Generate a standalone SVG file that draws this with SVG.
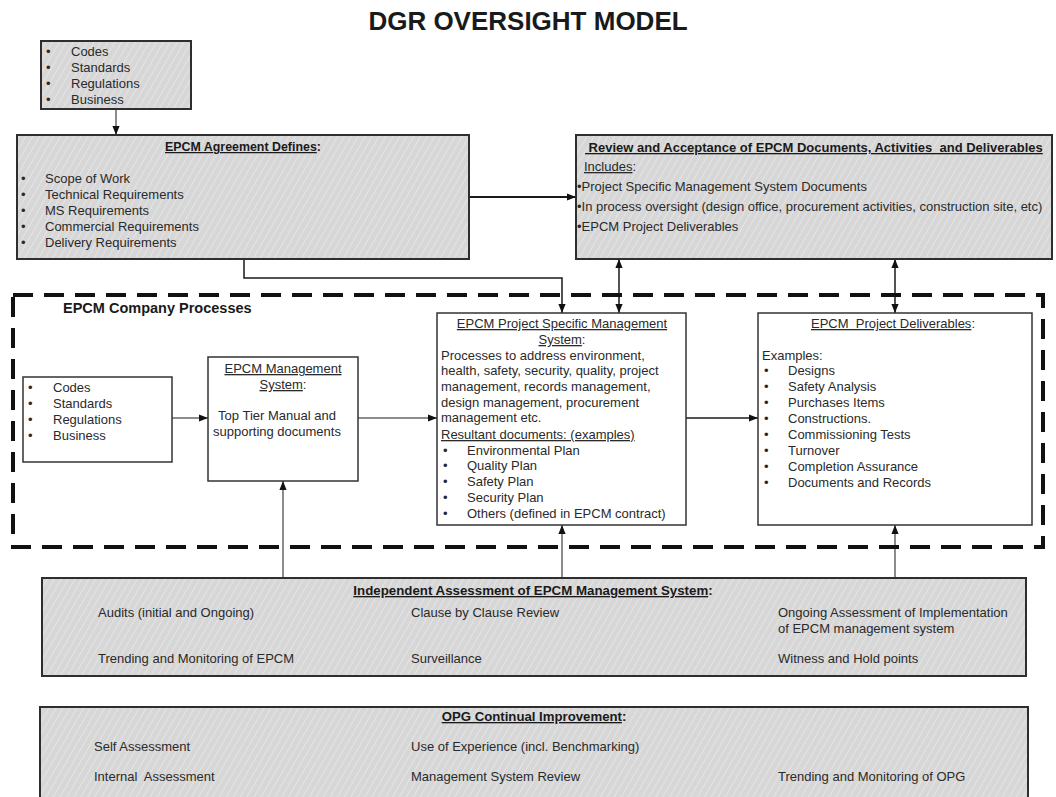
<svg xmlns="http://www.w3.org/2000/svg" width="1056" height="797" viewBox="0 0 1056 797">
<defs>
<pattern id="hatch" patternUnits="userSpaceOnUse" width="6" height="6" patternTransform="rotate(30)">
<rect width="6" height="6" fill="#d7d7d7"/>
<line x1="0" y1="0" x2="0" y2="6" stroke="#e8e8e8" stroke-width="1.6"/>
</pattern>
<marker id="ah" viewBox="0 0 10 8" refX="10" refY="4" markerWidth="9" markerHeight="7.5" markerUnits="userSpaceOnUse" orient="auto-start-reverse">
<path d="M0,0 L10,4 L0,8 z" fill="#111"/>
</marker>
</defs>
<style>
text{font-family:"Liberation Sans",Arial,sans-serif;font-size:13px;fill:#2a2a2a}
.t{font-weight:bold;fill:#1a1a1a}
.u{text-decoration:underline}
.pre{white-space:pre}
.gray{fill:url(#hatch);stroke:#2e2e2e;stroke-width:2}
.white{fill:#fff;stroke:#333;stroke-width:1.5}
.c{fill:none;stroke:#1a1a1a}
</style>
<rect width="1056" height="797" fill="#fff"/>
<text x="528" y="30" text-anchor="middle" class="t" style="font-size:26px">DGR OVERSIGHT MODEL</text>

<g id="connectors">
<line class="c" x1="116" y1="109" x2="116" y2="135" stroke-width="1" marker-end="url(#ah)"/>
<line class="c" x1="469" y1="197" x2="576" y2="197" stroke-width="2" marker-end="url(#ah)"/>
<polyline class="c" points="244,259 244,278 562,278 562,313" stroke-width="1.5" marker-end="url(#ah)"/>
<line class="c" x1="619" y1="259" x2="619" y2="313" stroke-width="1.5" marker-start="url(#ah)" marker-end="url(#ah)"/>
<line class="c" x1="895" y1="259" x2="895" y2="313" stroke-width="1.5" marker-start="url(#ah)" marker-end="url(#ah)"/>
<line class="c" x1="172" y1="418" x2="208" y2="418" stroke-width="1" marker-end="url(#ah)"/>
<line class="c" x1="358" y1="418" x2="437" y2="418" stroke-width="1" marker-end="url(#ah)"/>
<line class="c" x1="686" y1="418" x2="758" y2="418" stroke-width="1.5" marker-end="url(#ah)"/>
<line class="c" x1="283" y1="578" x2="283" y2="481" stroke-width="1" marker-end="url(#ah)"/>
<line class="c" x1="562" y1="578" x2="562" y2="525" stroke-width="1" marker-end="url(#ah)"/>
<line class="c" x1="895" y1="578" x2="895" y2="525" stroke-width="1" marker-end="url(#ah)"/>
</g>

<g id="company-processes">
<rect x="13" y="295" width="1030" height="252" fill="none" stroke="#111" stroke-width="4" stroke-dasharray="20 11"/>
<text x="63" y="313" class="t" style="font-size:14.5px">EPCM Company Processes</text>
</g>

<g id="inputs-top">
<rect class="gray" x="41" y="41" width="150" height="68"/>
<text x="46" y="56">•</text><text x="71" y="56">Codes</text>
<text x="46" y="72">•</text><text x="71" y="72">Standards</text>
<text x="46" y="88">•</text><text x="71" y="88">Regulations</text>
<text x="46" y="104">•</text><text x="71" y="104">Business</text>
</g>

<g id="agreement">
<rect class="gray" x="17" y="135" width="452" height="124"/>
<text x="243" y="151" text-anchor="middle" class="t" style="font-size:12.4px"><tspan class="u">EPCM Agreement Defines</tspan>:</text>
<text x="21" y="183">•</text><text x="45" y="183">Scope of Work</text>
<text x="21" y="199">•</text><text x="45" y="199">Technical Requirements</text>
<text x="21" y="215">•</text><text x="45" y="215">MS Requirements</text>
<text x="21" y="231">•</text><text x="45" y="231">Commercial Requirements</text>
<text x="21" y="247">•</text><text x="45" y="247">Delivery Requirements</text>
</g>

<g id="review">
<rect class="gray" x="576" y="135" width="476" height="124"/>
<text x="585" y="152" class="t u pre" style="font-size:13px"> Review and Acceptance of EPCM Documents, Activities  and Deliverables</text>
<text x="584" y="171"><tspan class="u">Includes</tspan>:</text>
<text x="577" y="191">•Project Specific Management System Documents</text>
<text x="577" y="211">•In process oversight (design office, procurement activities, construction site, etc)</text>
<text x="577" y="231">•EPCM Project Deliverables</text>
</g>

<g id="inputs-inner">
<rect class="white" x="23" y="377" width="149" height="85"/>
<text x="28" y="392">•</text><text x="53" y="392">Codes</text>
<text x="28" y="408">•</text><text x="53" y="408">Standards</text>
<text x="28" y="424">•</text><text x="53" y="424">Regulations</text>
<text x="28" y="440">•</text><text x="53" y="440">Business</text>
</g>

<g id="management-system">
<rect class="white" x="208" y="357" width="150" height="124"/>
<text x="283" y="373" text-anchor="middle" class="u">EPCM Management</text>
<text x="283" y="389" text-anchor="middle"><tspan class="u">System</tspan>:</text>
<text x="277" y="420" text-anchor="middle">Top Tier Manual and</text>
<text x="277" y="436" text-anchor="middle">supporting documents</text>
</g>

<g id="project-ms">
<rect class="white" x="437" y="313" width="249" height="212"/>
<text x="562" y="328" text-anchor="middle" class="u">EPCM Project Specific Management</text>
<text x="562" y="344" text-anchor="middle"><tspan class="u">System</tspan>:</text>
<text x="441" y="360">Processes to address environment,</text>
<text x="441" y="375">health, safety, security, quality, project</text>
<text x="441" y="391">management, records management,</text>
<text x="441" y="407">design management, procurement</text>
<text x="441" y="422">management etc.</text>
<text x="441" y="439" class="u">Resultant documents: (examples)</text>
<text x="443" y="455">•</text><text x="467" y="455">Environmental Plan</text>
<text x="443" y="470">•</text><text x="467" y="470">Quality Plan</text>
<text x="443" y="486">•</text><text x="467" y="486">Safety Plan</text>
<text x="443" y="502">•</text><text x="467" y="502">Security Plan</text>
<text x="443" y="518">•</text><text x="467" y="518">Others (defined in EPCM contract)</text>
</g>

<g id="deliverables">
<rect class="white" x="758" y="313" width="274" height="212"/>
<text x="893" y="328" text-anchor="middle" class="pre"><tspan class="u">EPCM  Project Deliverables</tspan>:</text>
<text x="762" y="360">Examples:</text>
<text x="764" y="375">•</text><text x="788" y="375">Designs</text>
<text x="764" y="391">•</text><text x="788" y="391">Safety Analysis</text>
<text x="764" y="407">•</text><text x="788" y="407">Purchases Items</text>
<text x="764" y="423">•</text><text x="788" y="423">Constructions.</text>
<text x="764" y="439">•</text><text x="788" y="439">Commissioning Tests</text>
<text x="764" y="455">•</text><text x="788" y="455">Turnover</text>
<text x="764" y="471">•</text><text x="788" y="471">Completion Assurance</text>
<text x="764" y="487">•</text><text x="788" y="487">Documents and Records</text>
</g>

<g id="independent-assessment">
<rect class="gray" x="42" y="578" width="984" height="98"/>
<text x="533" y="595" text-anchor="middle" class="t" style="font-size:13.3px"><tspan class="u">Independent Assessment of EPCM Management System</tspan>:</text>
<text x="98" y="617">Audits (initial and Ongoing)</text>
<text x="411" y="617">Clause by Clause Review</text>
<text x="778" y="617">Ongoing Assessment of Implementation</text>
<text x="778" y="633">of EPCM management system</text>
<text x="98" y="663">Trending and Monitoring of EPCM</text>
<text x="411" y="663">Surveillance</text>
<text x="778" y="663">Witness and Hold points</text>
</g>

<g id="opg-improvement">
<rect class="gray" x="40" y="707" width="988" height="100"/>
<text x="534" y="721" text-anchor="middle" class="t" style="font-size:13.2px"><tspan class="u">OPG Continual Improvement</tspan>:</text>
<text x="94" y="751">Self Assessment</text>
<text x="411" y="751">Use of Experience (incl. Benchmarking)</text>
<text x="94" y="781" class="pre">Internal  Assessment</text>
<text x="411" y="781">Management System Review</text>
<text x="778" y="781">Trending and Monitoring of OPG</text>
</g>
</svg>
